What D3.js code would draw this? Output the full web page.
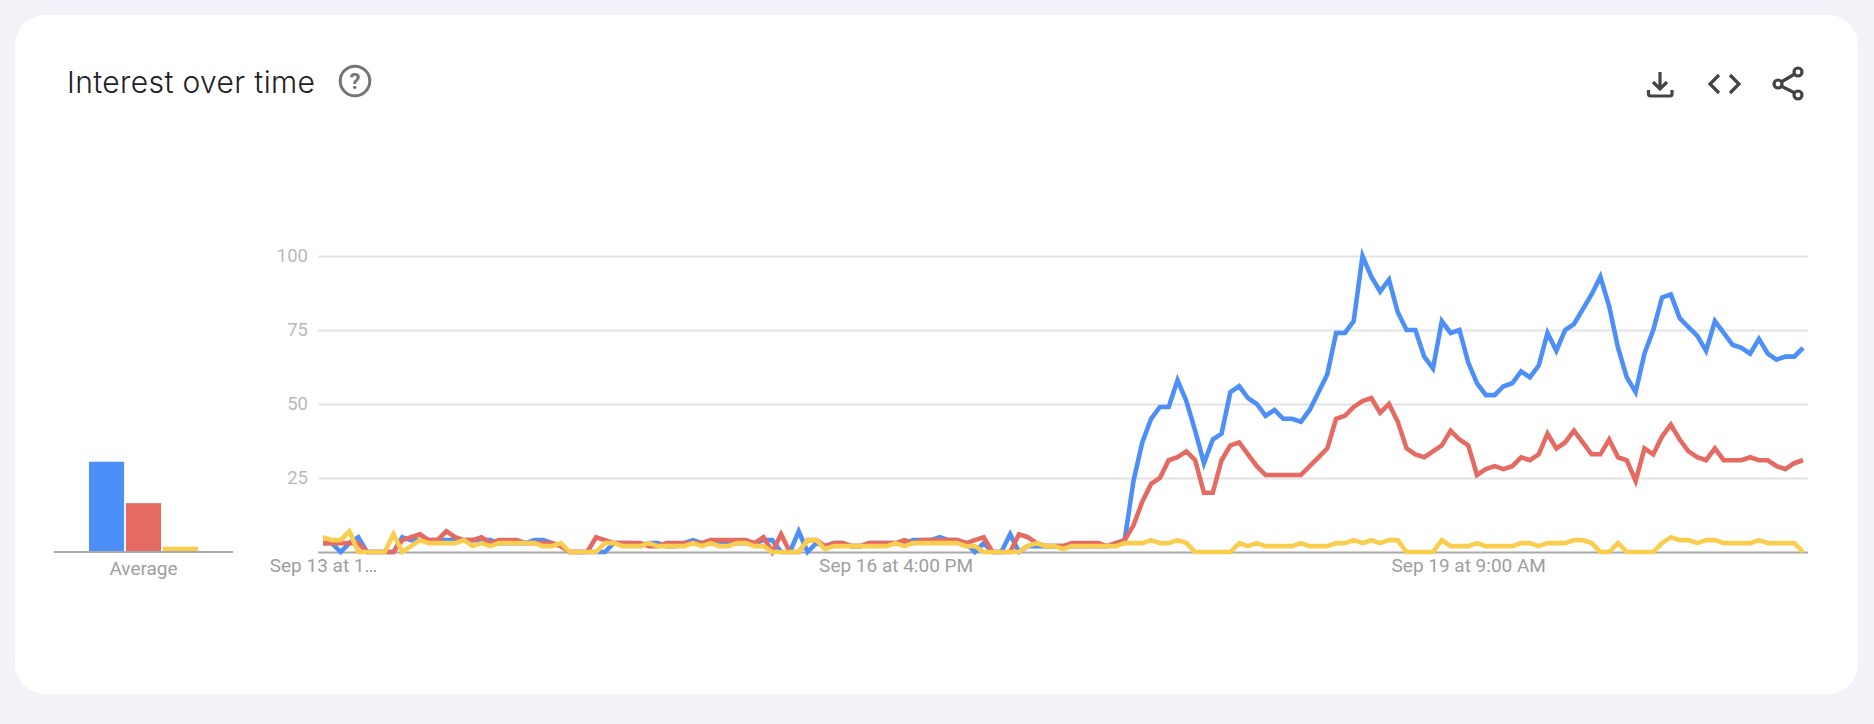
<!DOCTYPE html>
<html>
<head>
<meta charset="utf-8">
<script src="https://cdn.jsdelivr.net/npm/d3@7"></script>
<style>
  html, body { margin: 0; padding: 0; background: #f1f3f9; }
  svg { display: block; }
</style>
</head>
<body>
<svg id="chart" width="1874" height="724"></svg>
<script>
const seriesNames = ["blue", "red", "yellow"];
const seriesColors = ["#4d8ff8", "#e56a61", "#fbcd4f"];
const averages = [30.5, 16.5, 1.8];
const yTicks = [0, 25, 50, 75, 100];
const xTickIndex = [0, 65, 130];
const xTickLabels = ["Sep 13 at 1…", "Sep 16 at 4:00 PM", "Sep 19 at 9:00 AM"];

const blue = [3,3,0,3,5,0,0,0,0,5,4,4,4,4,4,4,4,4,4,4,3,3,3,3,4,4,3,2,0,0,0,0,0,3,3,3,2,3,3,2,2,3,4,3,3,3,3,3,3,3,4,4,0,0,7,0,3,2,3,3,2,2,3,3,3,3,3,4,4,4,5,4,4,3,0,3,0,0,6,0,2,2,2,2,2,2,2,2,2,2,3,
  4,24,37,45,49,49,58,51,41,30,38,40,54,56,52,50,46,48,45,45,44,48,54,60,74,74,78,100,93,88,92,81,75,75,66,62,
  78,74,75,64,57,53,53,56,57,61,59,63,74,68,75,77,82,87,93,83,69,59,54,67,75,86,87,79,76,73,68,78,74,70,69,67,72,67,65,66,66,69];
const red = [3,3,3,3,3,0,0,0,0,4,5,6,4,4,7,5,4,4,5,3,4,4,4,3,3,3,3,2,0,0,0,5,4,3,3,3,3,2,2,3,3,3,3,3,4,4,4,4,4,3,5,0,6,0,0,4,4,2,3,3,2,2,3,3,3,3,4,3,4,4,4,4,4,3,4,5,0,0,0,6,5,3,2,2,2,3,3,3,3,2,3,
  4,9,17,23,25,31,32,34,31,20,20,31,36,37,33,29,26,26,26,26,26,29,32,35,45,46,49,51,52,47,50,44,35,33,32,34,
  36,41,38,36,26,28,29,28,29,32,31,33,40,35,37,41,37,33,33,38,32,31,24,35,33,39,43,38,34,32,31,35,31,31,31,32,31,31,29,28,30,31];
const yellow = [5,4,4,7,0,0,0,0,6,0,2,4,3,3,3,3,4,2,3,2,3,3,3,3,3,2,2,3,0,0,0,0,3,3,2,2,2,3,2,2,2,2,3,2,3,2,2,3,3,2,2,0,0,0,0,4,4,1,2,2,2,2,2,2,2,3,2,3,3,3,3,3,3,2,2,0,0,0,0,0,2,3,2,2,1,2,2,2,2,2,2,
  3,3,3,4,3,3,4,3,0,0,0,0,0,3,2,3,2,2,2,2,3,2,2,2,3,3,4,3,4,3,4,4,0,0,0,0,
  4,2,2,2,3,2,2,2,2,3,3,2,3,3,3,4,4,3,0,0,3,0,0,0,0,3,5,4,4,3,4,4,3,3,3,3,4,3,3,3,3,0];

const svg = d3.select("#chart");
const font = "Roboto, sans-serif";

svg.append("rect")
   .attr("x", 15).attr("y", 15)
   .attr("width", 1843).attr("height", 679)
   .attr("rx", 30)
   .attr("fill", "#fff");

svg.append("text")
   .attr("x", 67).attr("y", 93)
   .attr("font-family", "Inter, sans-serif")
   .attr("font-size", 30)
   .attr("font-weight", 300)
   .attr("fill", "#202124")
   .attr("textLength", 248)
   .text("Interest over time");

// help icon
const help = svg.append("g").attr("transform", "translate(355,81)");
help.append("circle").attr("r", 14.8).attr("fill", "none").attr("stroke", "#757575").attr("stroke-width", 3);
help.append("text").attr("y", 8).attr("text-anchor", "middle")
    .attr("font-family", font).attr("font-size", 22).attr("font-weight", 700)
    .attr("fill", "#757575").text("?");

// toolbar icons
const icons = svg.append("g").attr("fill", "none").attr("stroke", "#444").attr("stroke-width", 3.2);
icons.append("path").attr("d", "M1660 72V88M1653 82L1660 89L1667 82M1648.5 90V94Q1648.5 96 1651 96H1670Q1672 96 1672 94V90");
icons.append("path").attr("d", "M1719 75L1710 84L1719 93M1730 75L1739 84L1730 93");
icons.append("path").attr("d", "M1794 74.5L1782 81.5M1782 86.5L1794 92.5");
[[1798, 72], [1778, 84], [1798, 95]].forEach(c => {
  icons.append("circle").attr("cx", c[0]).attr("cy", c[1]).attr("r", 4);
});

const y = d3.scaleLinear().domain([0, 100]).range([552, 256]);
const x = d3.scaleLinear().domain([0, 168]).range([323, 1803]);

// y axis and grid
const yAxis = svg.append("g")
   .attr("transform", "translate(318,0)")
   .call(d3.axisLeft(y).tickValues(yTicks).tickSize(-1490).tickPadding(10));
yAxis.select(".domain").remove();
yAxis.selectAll("line").attr("stroke", "#e3e3e3").attr("stroke-width", 2);
yAxis.selectAll("text")
     .attr("font-family", font).attr("font-size", 18.5).attr("fill", "#b9b9b9");
yAxis.selectAll(".tick").filter(d => d === 0).select("line").attr("stroke", "#aaa");
yAxis.selectAll(".tick").filter(d => d === 0).select("text").remove();

// x axis labels
const xAxis = svg.append("g")
   .attr("transform", "translate(0,552)")
   .call(d3.axisBottom(x).tickValues(xTickIndex).tickSize(0).tickPadding(7)
           .tickFormat((d, i) => xTickLabels[i]));
xAxis.select(".domain").remove();
xAxis.selectAll("text")
     .attr("font-family", font).attr("font-size", 19).attr("fill", "#9e9e9e");

// lines
const line = d3.line().x((d, i) => x(i)).y(d => y(d));
svg.append("g").selectAll("path")
   .data([blue, red, yellow])
   .enter().append("path")
   .attr("d", line)
   .attr("fill", "none")
   .attr("stroke", (d, i) => seriesColors[i])
   .attr("stroke-width", 4.6)
   .attr("stroke-linejoin", "miter");

// average bars
const band = d3.scaleBand().domain(seriesNames).range([89, 198]).paddingInner(0.05);
svg.append("g").selectAll("rect")
   .data(averages)
   .enter().append("rect")
   .attr("x", (d, i) => band(seriesNames[i]))
   .attr("y", d => y(d))
   .attr("width", band.bandwidth())
   .attr("height", d => y(0) - y(d))
   .attr("fill", (d, i) => seriesColors[i]);

svg.append("line")
   .attr("x1", 54).attr("x2", 233)
   .attr("y1", y(0)).attr("y2", y(0))
   .attr("stroke", "#aaa").attr("stroke-width", 2);

svg.append("text")
   .attr("x", 143.5).attr("y", 575)
   .attr("text-anchor", "middle")
   .attr("font-family", font).attr("font-size", 19).attr("fill", "#9e9e9e")
   .text("Average");
</script>
</body>
</html>
